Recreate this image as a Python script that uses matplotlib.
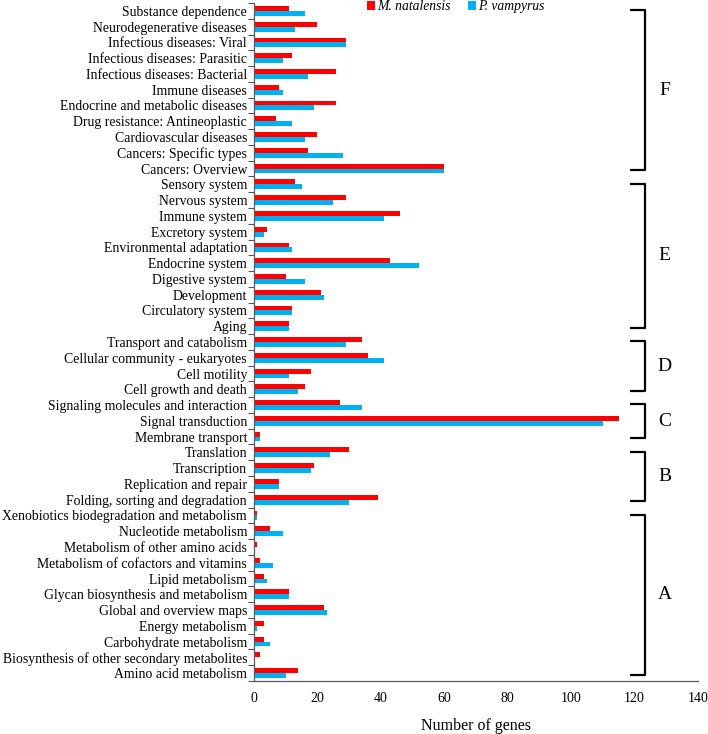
import matplotlib
matplotlib.use("Agg")
import matplotlib.pyplot as plt
import numpy as np

plt.rcParams['font.family'] = ['Liberation Serif', 'DejaVu Serif']

categories = [
    "Substance dependence", "Neurodegenerative diseases", "Infectious diseases: Viral",
    "Infectious diseases: Parasitic", "Infectious diseases: Bacterial", "Immune diseases",
    "Endocrine and metabolic diseases", "Drug resistance: Antineoplastic",
    "Cardiovascular diseases", "Cancers: Specific types", "Cancers: Overview",
    "Sensory system", "Nervous system", "Immune system", "Excretory system",
    "Environmental adaptation", "Endocrine system", "Digestive system", "Development",
    "Circulatory system", "Aging",
    "Transport and catabolism", "Cellular community - eukaryotes", "Cell motility",
    "Cell growth and death",
    "Signaling molecules and interaction", "Signal transduction", "Membrane transport",
    "Translation", "Transcription", "Replication and repair", "Folding, sorting and degradation",
    "Xenobiotics biodegradation and metabolism", "Nucleotide metabolism",
    "Metabolism of other amino acids", "Metabolism of cofactors and vitamins",
    "Lipid metabolism", "Glycan biosynthesis and metabolism", "Global and overview maps",
    "Energy metabolism", "Carbohydrate metabolism",
    "Biosynthesis of other secondary metabolites", "Amino acid metabolism",
]

m_natalensis = [11, 20, 29, 12, 26, 8, 26, 7, 20, 17, 60,
                13, 29, 46, 4, 11, 43, 10, 21, 12, 11,
                34, 36, 18, 16,
                27, 115, 2,
                30, 19, 8, 39,
                1, 5, 1, 2, 3, 11, 22, 3, 3, 2, 14]
p_vampyrus = [16, 13, 29, 9, 17, 9, 19, 12, 16, 28, 60,
              15, 25, 41, 3, 12, 52, 16, 22, 12, 11,
              29, 41, 11, 14,
              34, 110, 2,
              24, 18, 8, 30,
              1, 9, 0, 6, 4, 11, 23, 1, 5, 0, 10]

series_names = ["M. natalensis", "P. vampyrus"]
colors = ["#FF0000", "#00B0F0"]

# groups: (letter, first category, last category)
groups = [("F", "Substance dependence", "Cancers: Overview"),
          ("E", "Sensory system", "Aging"),
          ("D", "Transport and catabolism", "Cell growth and death"),
          ("C", "Signaling molecules and interaction", "Membrane transport"),
          ("B", "Translation", "Folding, sorting and degradation"),
          ("A", "Xenobiotics biodegradation and metabolism", "Amino acid metabolism")]

fig = plt.figure(figsize=(7.08, 7.34), dpi=100)
ax = fig.add_axes([254/708, 1 - 681/734, (698 - 254)/708, (681 - 3)/734])

y = np.arange(len(categories))
h = 0.31
ax.barh(y - h/2, m_natalensis, height=h, color=colors[0], label=series_names[0])
ax.barh(y + h/2, p_vampyrus, height=h, color=colors[1], label=series_names[1])

ax.set_ylim(len(categories) - 0.5, -0.5)
ax.set_xlim(0, 140)
ax.set_xticks(np.arange(0, 141, 20))
ax.set_yticks(y)
ax.set_yticklabels(categories, fontsize=9.9)
ax.set_yticks(np.arange(-0.5, len(categories), 1.0), minor=True)
ax.tick_params(axis='y', which='major', length=0, pad=5)
ax.tick_params(axis='y', which='minor', length=4, width=0.8, color='#555555', direction='out')
ax.tick_params(axis='x', which='major', length=0, labelsize=10, pad=8)
for s in ['top', 'right']:
    ax.spines[s].set_visible(False)
for s in ['left', 'bottom']:
    ax.spines[s].set_color('#595959')
    ax.spines[s].set_linewidth(0.9)

ax.set_xlabel("Number of genes", fontsize=11.5, labelpad=9)

leg = ax.legend(loc='upper center', bbox_to_anchor=(0.455, 1.012), ncol=2, frameon=False,
                prop={'style': 'italic', 'size': 9.8}, handlelength=0.55, handleheight=0.55,
                handletextpad=0.2, columnspacing=1.3, borderaxespad=0)

# brackets
idx = {c: i for i, c in enumerate(categories)}
bx = 123.2
hook = 4.5
for letter, first, last in groups:
    y0 = idx[first] - 0.05
    y1 = idx[last] + 0.1
    ax.plot([bx - hook, bx, bx, bx - hook], [y0, y0, y1, y1], color='black',
            lw=1.6, clip_on=False, solid_joinstyle='round', solid_capstyle='butt')
    ax.text(bx + 6.3, (y0 + y1) / 2, letter, fontsize=14, ha='center', va='center')

fig.savefig("out.png", dpi=100)
